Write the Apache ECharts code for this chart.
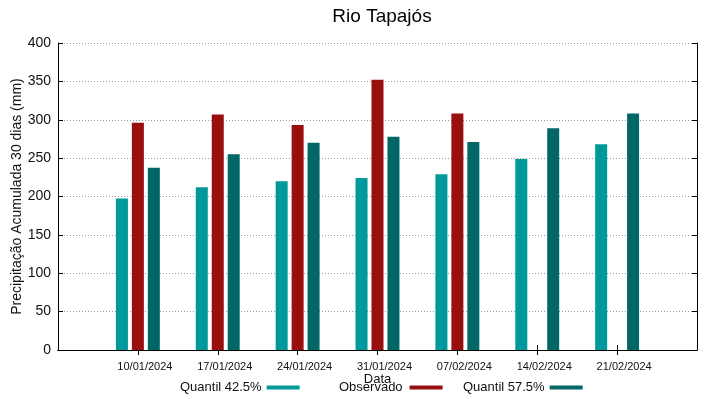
<!DOCTYPE html>
<html>
<head>
<meta charset="utf-8">
<script src="https://cdn.jsdelivr.net/npm/echarts@6/dist/echarts.min.js"></script>
<style>
  html, body { margin: 0; padding: 0; background: #fff; }
  #chart { width: 719px; height: 399px; }
</style>
</head>
<body>
<div id="chart"></div>
<script>
const categories = ['10/01/2024', '17/01/2024', '24/01/2024', '31/01/2024', '07/02/2024', '14/02/2024', '21/02/2024'];
const quantil425 = [197.5, 212, 220, 224, 229, 249, 268];
const observado = [296, 307, 293, 352, 308, null, null];
const quantil575 = [237.5, 255, 270, 278, 271, 289, 308];
const yTicks = [0, 50, 100, 150, 200, 250, 300, 350, 400];

const font = 'Liberation Sans';
// empty slot on each side so the groups sit one step in from the frame
const axisCats = [''].concat(categories, ['']);
const pad = arr => [null].concat(arr, [null]);
const tickOnCat = (i, v) => v !== '';

const chart = echarts.init(document.getElementById('chart'), null, { renderer: 'canvas' });

function legendItem(name, left, gap) {
  return {
    data: [name],
    left: left,
    top: 381,
    padding: 0,
    align: 'right',
    icon: 'rect',
    itemWidth: 33,
    itemHeight: 4,
    selectedMode: false,
    textStyle: { fontFamily: font, fontSize: 13, color: '#111', padding: [0, gap, 0, 0] }
  };
}

const yBase = {
  type: 'value',
  min: yTicks[0],
  max: yTicks[yTicks.length - 1],
  interval: 50,
  axisLine: { show: true, lineStyle: { color: '#000', width: 1 } },
  axisTick: { show: true, inside: true, length: 5, lineStyle: { color: '#000' } }
};

const option = {
  backgroundColor: '#fff',
  animation: false,
  title: {
    text: 'Rio Tapajós',
    left: 377,
    textAlign: 'center',
    top: 2,
    textStyle: { fontFamily: font, fontSize: 19, fontWeight: 'normal', color: '#000' }
  },
  legend: [
    legendItem('Quantil 42.5%', 180, 0),
    legendItem('Observado', 339, 2),
    legendItem('Quantil 57.5%', 463, 0)
  ],
  grid: { left: 58, right: 22, top: 43, bottom: 49, containLabel: false, outerBoundsMode: 'none' },
  xAxis: [{
    type: 'category',
    data: axisCats,
    boundaryGap: false,
    name: 'Data',
    nameLocation: 'middle',
    nameGap: 23,
    nameMoveOverlap: false,
    nameTextStyle: { fontFamily: font, fontSize: 13, color: '#111' },
    axisLine: { show: true, lineStyle: { color: '#000', width: 1 } },
    axisTick: { show: true, inside: true, length: 5, interval: tickOnCat, lineStyle: { color: '#000' } },
    axisLabel: { interval: 0, margin: 11, fontFamily: font, fontSize: 11, color: '#111', padding: [0, 0, 0, 14] },
    splitLine: { show: false }
  }, {
    type: 'category',
    data: axisCats,
    boundaryGap: false,
    position: 'top',
    axisLine: { show: true, lineStyle: { color: '#000', width: 1 } },
    axisTick: { show: true, inside: true, length: 5, interval: tickOnCat, lineStyle: { color: '#000' } },
    axisLabel: { show: false },
    splitLine: { show: false }
  }],
  yAxis: [Object.assign({}, yBase, {
    position: 'left',
    name: 'Precipitação Acumulada 30 dias (mm)',
    nameLocation: 'middle',
    nameGap: 34,
    nameMoveOverlap: false,
    nameTextStyle: { fontFamily: font, fontSize: 14, color: '#111' },
    axisLabel: { margin: 7, fontFamily: font, fontSize: 14, color: '#111' },
    splitLine: { show: true, lineStyle: { color: '#999', type: [1, 2], width: 1 } }
  }), Object.assign({}, yBase, {
    position: 'right',
    axisLabel: { show: false },
    splitLine: { show: false }
  })],
  series: [{
    name: 'Quantil 42.5%',
    type: 'bar',
    data: pad(quantil425),
    barWidth: 12,
    barGap: '33%',
    itemStyle: { color: '#009999' }
  }, {
    name: 'Observado',
    type: 'bar',
    data: pad(observado),
    barWidth: 12,
    barGap: '33%',
    itemStyle: { color: '#990e0e' }
  }, {
    name: 'Quantil 57.5%',
    type: 'bar',
    data: pad(quantil575),
    barWidth: 12,
    barGap: '33%',
    itemStyle: { color: '#006666' }
  }]
};

chart.setOption(option);
</script>
</body>
</html>
